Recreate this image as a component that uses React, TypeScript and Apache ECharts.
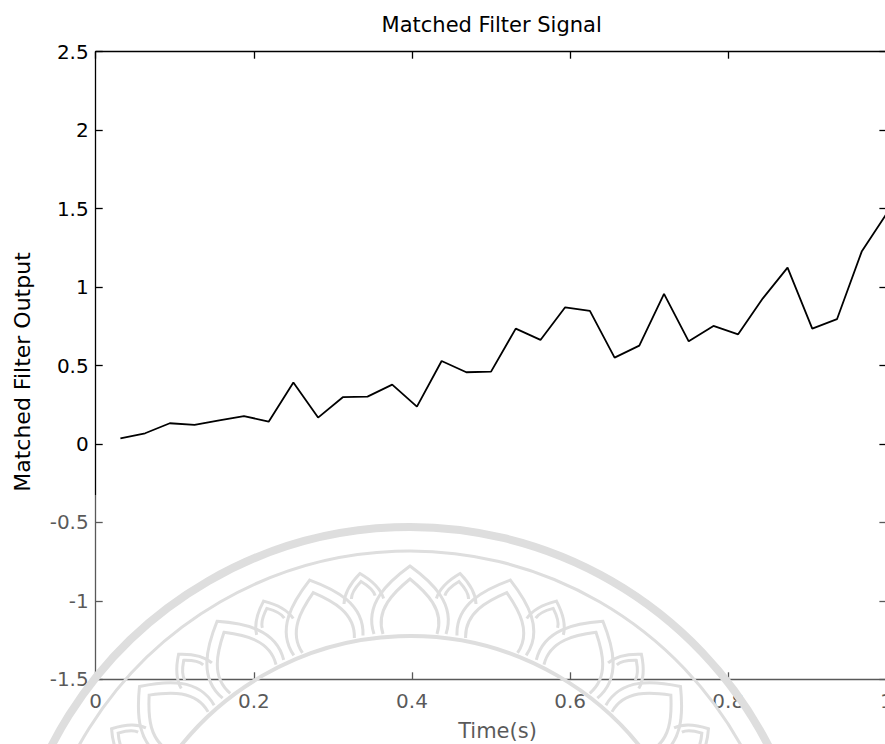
import React, { useEffect, useRef } from "react";
import * as echarts from "echarts";

// ---- Data ----
const timeValues = [
  0.03125, 0.0625, 0.09375, 0.125, 0.15625, 0.1875, 0.21875, 0.25,
  0.28125, 0.3125, 0.34375, 0.375, 0.40625, 0.4375, 0.46875, 0.5,
  0.53125, 0.5625, 0.59375, 0.625, 0.65625, 0.6875, 0.71875, 0.75,
  0.78125, 0.8125, 0.84375, 0.875, 0.90625, 0.9375, 0.96875, 1.0,
];
const filterOutput = [
  0.036, 0.068, 0.132, 0.121, 0.15, 0.178, 0.142, 0.391,
  0.168, 0.298, 0.302, 0.378, 0.238, 0.529, 0.457, 0.461,
  0.735, 0.663, 0.871, 0.848, 0.55, 0.627, 0.956, 0.654,
  0.752, 0.699, 0.928, 1.124, 0.735, 0.795, 1.226, 1.465,
];
const xTicks = [0, 0.2, 0.4, 0.6, 0.8, 1];
const yTicks = [-1.5, -1, -0.5, 0, 0.5, 1, 1.5, 2, 2.5];

const titleText = "Matched Filter Signal";
const xName = "Time(s)";
const yName = "Matched Filter Output";

// ---- Watermark shapes (decoration of the scanned page) ----
echarts.graphic.registerShape(
  "bigPetal",
  echarts.graphic.extendPath(
    "M -36 0 C -46 -30 -22 -52 0 -68 C 22 -52 46 -30 36 0 M -27 0 C -35 -24 -16 -42 0 -55 C 16 -42 35 -24 27 0",
    {}
  )
);
echarts.graphic.registerShape(
  "smallPetal",
  echarts.graphic.extendPath(
    "M -20 -36 C -18 -48 -9 -57 0 -64 C 9 -57 18 -48 20 -36 M -12 -40 C -11 -47 -5 -52 0 -56 C 5 -52 11 -47 12 -40",
    {}
  )
);

const FONT = "DejaVu Sans";

function buildWatermark(): any[] {
  const cx = 410;
  const cy = 930;
  const wm = "#cccccc";
  const els: any[] = [
    { type: "circle", z: 90, shape: { cx, cy, r: 403 }, style: { fill: "none", stroke: wm, lineWidth: 8 }, silent: true },
    { type: "circle", z: 90, shape: { cx, cy, r: 379 }, style: { fill: "none", stroke: wm, lineWidth: 3 }, silent: true },
    { type: "circle", z: 90, shape: { cx, cy, r: 294 }, style: { fill: "none", stroke: wm, lineWidth: 4 }, silent: true },
  ];
  const r0 = 296;
  for (let a = 42; a <= 138; a += 16) {
    const th = (a * Math.PI) / 180;
    els.push({
      type: "bigPetal",
      z: 90,
      silent: true,
      x: cx + r0 * Math.cos(th),
      y: cy - r0 * Math.sin(th),
      rotation: th - Math.PI / 2,
      style: { fill: "none", stroke: wm, lineWidth: 3 },
    });
  }
  for (let a = 34; a <= 146; a += 16) {
    const th = (a * Math.PI) / 180;
    els.push({
      type: "smallPetal",
      z: 90,
      silent: true,
      x: cx + r0 * Math.cos(th),
      y: cy - r0 * Math.sin(th),
      rotation: th - Math.PI / 2,
      style: { fill: "none", stroke: wm, lineWidth: 3 },
    });
  }
  return els;
}

export default function App() {
  const ref = useRef<HTMLDivElement>(null);

  useEffect(() => {
    if (!ref.current) return;
    const chart = echarts.init(ref.current, undefined, { renderer: "svg" });

    const xInterval = xTicks[1] - xTicks[0];
    const yInterval = yTicks[1] - yTicks[0];
    const axisLine = { show: true, onZero: false, lineStyle: { color: "#000", width: 1.3 } };
    const axisTick = { show: true, inside: true, length: 7, lineStyle: { color: "#000", width: 1.3 } };

    const option: any = {
      animation: false,
      backgroundColor: "#fff",
      grid: { left: 95.7, top: 51.7, right: 13.6, bottom: 64.7, containLabel: false },
      xAxis: [
        {
          type: "value",
          position: "bottom",
          min: xTicks[0],
          max: xTicks[xTicks.length - 1],
          interval: xInterval,
          axisLine,
          axisTick,
          splitLine: { show: false },
          axisLabel: { margin: 12, color: "#000", fontSize: 20, fontFamily: FONT },
        },
        {
          type: "value",
          position: "top",
          min: xTicks[0],
          max: xTicks[xTicks.length - 1],
          interval: xInterval,
          axisLine,
          axisTick,
          splitLine: { show: false },
          axisLabel: { show: false },
        },
      ],
      yAxis: [
        {
          type: "value",
          position: "left",
          min: yTicks[0],
          max: yTicks[yTicks.length - 1],
          interval: yInterval,
          axisLine,
          axisTick,
          splitLine: { show: false },
          axisLabel: { margin: 7, color: "#000", fontSize: 20, fontFamily: FONT },
        },
        {
          type: "value",
          position: "right",
          min: yTicks[0],
          max: yTicks[yTicks.length - 1],
          interval: yInterval,
          axisLine,
          axisTick,
          splitLine: { show: false },
          axisLabel: { show: false },
        },
      ],
      series: [
        {
          type: "line",
          xAxisIndex: 0,
          yAxisIndex: 0,
          data: timeValues.map((t, i) => [t, filterOutput[i]]),
          showSymbol: false,
          symbol: "none",
          lineStyle: { color: "#000", width: 1.8 },
          clip: false,
        },
      ],
      graphic: [
        {
          type: "text",
          z: 10,
          x: 491.7,
          y: 25,
          style: { text: titleText, fontSize: 21, fontFamily: FONT, fill: "#000", align: "center", verticalAlign: "middle" },
        },
        {
          type: "text",
          z: 10,
          x: 22.5,
          y: 372,
          rotation: Math.PI / 2,
          style: { text: yName, fontSize: 22, fontFamily: FONT, fill: "#000", align: "center", verticalAlign: "middle" },
        },
        {
          type: "text",
          z: 10,
          x: 497.5,
          y: 731,
          style: { text: xName, fontSize: 21, fontFamily: FONT, fill: "#000", align: "center", verticalAlign: "middle" },
        },
        ...buildWatermark(),
        {
          type: "rect",
          z: 100,
          silent: true,
          shape: { x: 0, y: 495, width: 900, height: 249 },
          style: { fill: "rgba(255,255,255,0.35)" },
        },
      ],
    };

    chart.setOption(option);
    return () => chart.dispose();
  }, []);

  return (
    <div
      style={{ position: "fixed", left: 0, top: 0, width: 885, height: 744, overflow: "hidden", background: "#fff" }}
    >
      <div ref={ref} style={{ position: "absolute", left: 0, top: 0, width: 900, height: 744 }} />
    </div>
  );
}
